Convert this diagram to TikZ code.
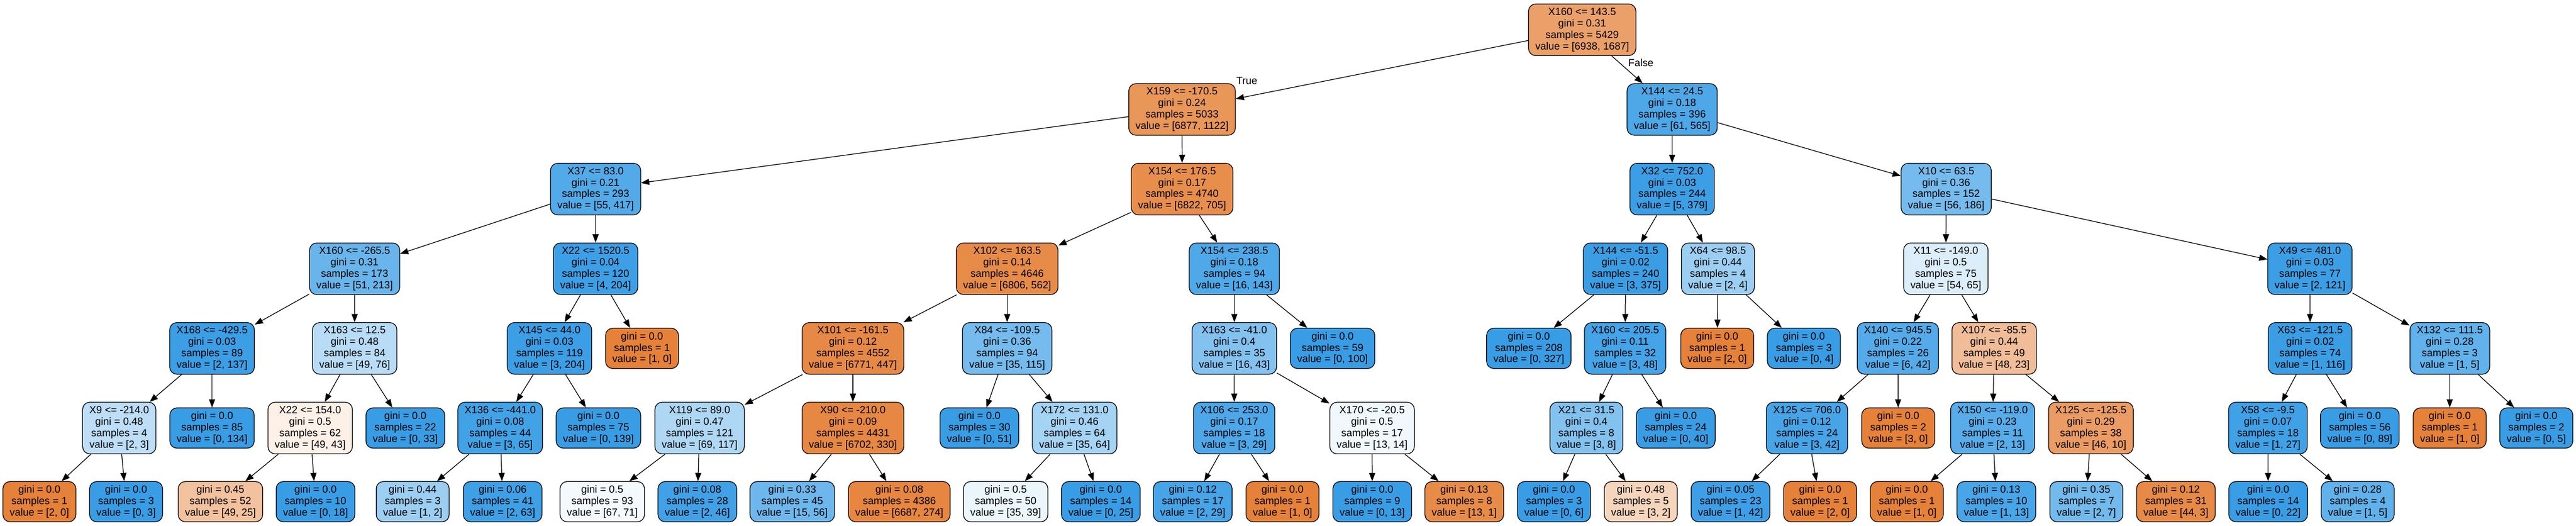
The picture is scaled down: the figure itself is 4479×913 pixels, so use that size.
\documentclass[tikz,border=0pt]{standalone}
\usepackage{fontspec}
\setmainfont{Liberation Sans}
\usetikzlibrary{arrows.meta}
\definecolor{cA}{RGB}{229,129,57}
\definecolor{cB}{RGB}{57,157,229}
\tikzset{
  nv/.code 2 args={%
    \pgfmathsetmacro\dtAlpha{(max(#1,#2)-min(#1,#2))/max(#1,#2)*100}%
    \ifnum#1<#2\relax\def\dtCol{cB}\else\def\dtCol{cA}\fi
    \edef\dtTmp{\noexpand\pgfkeysalso{fill=\dtCol!\dtAlpha!white}}\dtTmp},
  dtbox/.style={draw=black, line width=1pt, rounded corners=10pt, align=center,
    font=\fontsize{14.4}{16}\selectfont, inner xsep=9.5pt, inner ysep=0pt},
  dtint/.style={dtbox, minimum height=72pt},
  dtleaf/.style={dtbox, minimum height=56.2pt},
  dtedge/.style={draw=black, line width=1pt, -{Triangle[length=11.5pt,width=8.5pt]}},
  dtlab/.style={font=\fontsize{14.4}{16}\selectfont, inner sep=0pt}
}
\newcommand\dtInner[8]{\node[dtint, nv={#7}{#8}] (#1) at ({#2},{ifthenelse(#3<6,51.76+138.4*#3,871.7)}) {#4\\gini = #5\\samples = #6\\value = [#7, #8]};}
\newcommand\dtLeaf[7]{\node[dtleaf, nv={#6}{#7}] (#1) at ({#2},{ifthenelse(#3<6,51.76+138.4*#3,871.7)}) {gini = #4\\samples = #5\\value = [#6, #7]};}
\begin{document}
\begin{tikzpicture}[x=0.80289pt, y=-0.80289pt]
\fill[white] (0,0) rectangle (4479,913);
\useasboundingbox (0,0) rectangle (4479,913);
% rank 0-2
\dtInner{R}{2751}{0}{X160 <= 143.5}{0.31}{5429}{6938}{1687}
\dtInner{A}{2055.3}{1}{X159 <= -170.5}{0.24}{5033}{6877}{1122}
\dtInner{B}{2907.4}{1}{X144 <= 24.5}{0.18}{396}{61}{565}
\dtInner{Aa}{1035.6}{2}{X37 <= 83.0}{0.21}{293}{55}{417}
\dtInner{Ab}{2055.4}{2}{X154 <= 176.5}{0.17}{4740}{6822}{705}
\dtInner{Ba}{2907.4}{2}{X32 <= 752.0}{0.03}{244}{5}{379}
\dtInner{Bb}{3383.9}{2}{X10 <= 63.5}{0.36}{152}{56}{186}
% rank 3
\dtInner{Aaa}{616.6}{3}{X160 <= -265.5}{0.31}{173}{51}{213}
\dtInner{Aab}{1035.6}{3}{X22 <= 1520.5}{0.04}{120}{4}{204}
\dtInner{Aba}{1751.2}{3}{X102 <= 163.5}{0.14}{4646}{6806}{562}
\dtInner{Abb}{2146.2}{3}{X154 <= 238.5}{0.18}{94}{16}{143}
\dtInner{Baa}{2826.4}{3}{X144 <= -51.5}{0.02}{240}{3}{375}
\dtInner{Bab}{2987}{3}{X64 <= 98.5}{0.44}{4}{2}{4}
\dtInner{Bba}{3383.3}{3}{X11 <= -149.0}{0.5}{75}{54}{65}
\dtInner{Bbb}{4016.4}{3}{X49 <= 481.0}{0.03}{77}{2}{121}
% rank 4
\dtInner{Aaaa}{368.7}{4}{X168 <= -429.5}{0.03}{89}{2}{137}
\dtInner{Aaab}{616.7}{4}{X163 <= 12.5}{0.48}{84}{49}{76}
\dtInner{Aaba}{955.4}{4}{X145 <= 44.0}{0.03}{119}{3}{204}
\dtLeaf{Aabb}{1116.3}{4}{0.0}{1}{1}{0}
\dtInner{Abaa}{1483}{4}{X101 <= -161.5}{0.12}{4552}{6771}{447}
\dtInner{Abab}{1751.2}{4}{X84 <= -109.5}{0.36}{94}{35}{115}
\dtInner{Abba}{2146.2}{4}{X163 <= -41.0}{0.4}{35}{16}{43}
\dtLeaf{Abbb}{2316.9}{4}{0.0}{59}{0}{100}
\dtLeaf{Baaa}{2658.2}{4}{0.0}{208}{0}{327}
\dtInner{Baab}{2825.7}{4}{X160 <= 205.5}{0.11}{32}{3}{48}
\dtLeaf{Baba}{2985.8}{4}{0.0}{1}{2}{0}
\dtLeaf{Babb}{3136.5}{4}{0.0}{3}{0}{4}
\dtInner{Bbaa}{3299.9}{4}{X140 <= 945.5}{0.22}{26}{6}{42}
\dtInner{Bbab}{3467.3}{4}{X107 <= -85.5}{0.44}{49}{48}{23}
\dtInner{Bbba}{4016.7}{4}{X63 <= -121.5}{0.02}{74}{1}{116}
\dtInner{Bbbb}{4259.5}{4}{X132 <= 111.5}{0.28}{3}{1}{5}
% rank 5
\dtInner{Aaaaa}{207.3}{5}{X9 <= -214.0}{0.48}{4}{2}{3}
\dtLeaf{Aaaab}{368.7}{5}{0.0}{85}{0}{134}
\dtInner{Aaaba}{539.3}{5}{X22 <= 154.0}{0.5}{62}{49}{43}
\dtLeaf{Aaabb}{704.7}{5}{0.0}{22}{0}{33}
\dtInner{Aabaa}{869.7}{5}{X136 <= -441.0}{0.08}{44}{3}{65}
\dtLeaf{Aabab}{1040.5}{5}{0.0}{75}{0}{139}
\dtInner{Abaaa}{1216.5}{5}{X119 <= 89.0}{0.47}{121}{69}{117}
\dtInner{Abaab}{1483}{5}{X90 <= -210.0}{0.09}{4431}{6702}{330}
\dtLeaf{Ababa}{1702.9}{5}{0.0}{30}{0}{51}
\dtInner{Ababb}{1868.5}{5}{X172 <= 131.0}{0.46}{64}{35}{64}
\dtInner{Abbaa}{2145.9}{5}{X106 <= 253.0}{0.17}{18}{3}{29}
\dtInner{Abbab}{2385.7}{5}{X170 <= -20.5}{0.5}{17}{13}{14}
\dtInner{Baaba}{2758.3}{5}{X21 <= 31.5}{0.4}{8}{3}{8}
\dtLeaf{Baabb}{2913.7}{5}{0.0}{24}{0}{40}
\dtInner{Bbaaa}{3141.9}{5}{X125 <= 706.0}{0.12}{24}{3}{42}
\dtLeaf{Bbaab}{3300.5}{5}{0.0}{2}{3}{0}
\dtInner{Bbaba}{3464.6}{5}{X150 <= -119.0}{0.23}{11}{2}{13}
\dtInner{Bbabb}{3635.5}{5}{X125 <= -125.5}{0.29}{38}{46}{10}
\dtInner{Bbbaa}{3943.3}{5}{X58 <= -9.5}{0.07}{18}{1}{27}
\dtLeaf{Bbbab}{4103.1}{5}{0.0}{56}{0}{89}
\dtLeaf{Bbbba}{4259.4}{5}{0.0}{1}{1}{0}
\dtLeaf{Bbbbb}{4410}{5}{0.0}{2}{0}{5}
% rank 6
\dtLeaf{L1}{68.5}{6}{0.0}{1}{2}{0}
\dtLeaf{L2}{219.2}{6}{0.0}{3}{0}{3}
\dtLeaf{L3}{383.3}{6}{0.45}{52}{49}{25}
\dtLeaf{L4}{548.6}{6}{0.0}{10}{0}{18}
\dtLeaf{L5}{717.6}{6}{0.44}{3}{1}{2}
\dtLeaf{L6}{874.0}{6}{0.06}{41}{2}{63}
\dtLeaf{L7}{1047.2}{6}{0.5}{93}{67}{71}
\dtLeaf{L8}{1212.5}{6}{0.08}{28}{2}{46}
\dtLeaf{L9}{1377.5}{6}{0.33}{45}{15}{56}
\dtLeaf{L10}{1563.7}{6}{0.08}{4386}{6687}{274}
\dtLeaf{L11}{1748.6}{6}{0.5}{50}{35}{39}
\dtLeaf{L12}{1914.1}{6}{0.0}{14}{0}{25}
\dtLeaf{L13}{2073.9}{6}{0.12}{17}{2}{29}
\dtLeaf{L14}{2229.9}{6}{0.0}{1}{1}{0}
\dtLeaf{L15}{2386}{6}{0.0}{9}{0}{13}
\dtLeaf{L16}{2546}{6}{0.13}{8}{13}{1}
\dtLeaf{L17}{2702}{6}{0.0}{3}{0}{6}
\dtLeaf{L18}{2852.9}{6}{0.48}{5}{3}{2}
\dtLeaf{L19}{3008.9}{6}{0.05}{23}{1}{42}
\dtLeaf{L20}{3164.7}{6}{0.0}{1}{2}{0}
\dtLeaf{L21}{3315.5}{6}{0.0}{1}{1}{0}
\dtLeaf{L22}{3471.2}{6}{0.13}{10}{1}{13}
\dtLeaf{L23}{3627.6}{6}{0.35}{7}{2}{7}
\dtLeaf{L24}{3783.3}{6}{0.12}{31}{44}{3}
\dtLeaf{L25}{3943.7}{6}{0.0}{14}{0}{22}
\dtLeaf{L26}{4099.5}{6}{0.28}{4}{1}{5}
% edge labels
\node[dtlab] (tl) at (2168,140.5) {True};
\node[dtlab] (fl) at (2853,109.4) {False};
% edges
\foreach \p/\c in {R/A, R/B, A/Aa, A/Ab, B/Ba, B/Bb,
  Aa/Aaa, Aa/Aab, Ab/Aba, Ab/Abb, Ba/Baa, Ba/Bab, Bb/Bba, Bb/Bbb,
  Aaa/Aaaa, Aaa/Aaab, Aab/Aaba, Aab/Aabb, Aba/Abaa, Aba/Abab, Abb/Abba, Abb/Abbb,
  Baa/Baaa, Baa/Baab, Bab/Baba, Bab/Babb, Bba/Bbaa, Bba/Bbab, Bbb/Bbba, Bbb/Bbbb,
  Aaaa/Aaaaa, Aaaa/Aaaab, Aaab/Aaaba, Aaab/Aaabb, Aaba/Aabaa, Aaba/Aabab,
  Abaa/Abaaa, Abaa/Abaab, Abab/Ababa, Abab/Ababb, Abba/Abbaa, Abba/Abbab,
  Baab/Baaba, Baab/Baabb, Bbaa/Bbaaa, Bbaa/Bbaab, Bbab/Bbaba, Bbab/Bbabb,
  Bbba/Bbbaa, Bbba/Bbbab, Bbbb/Bbbba, Bbbb/Bbbbb,
  Aaaaa/L1, Aaaaa/L2, Aaaba/L3, Aaaba/L4, Aabaa/L5, Aabaa/L6,
  Abaaa/L7, Abaaa/L8, Abaab/L9, Abaab/L10, Ababb/L11, Ababb/L12,
  Abbaa/L13, Abbaa/L14, Abbab/L15, Abbab/L16, Baaba/L17, Baaba/L18,
  Bbaaa/L19, Bbaaa/L20, Bbaba/L21, Bbaba/L22, Bbabb/L23, Bbabb/L24,
  Bbbaa/L25, Bbbaa/L26}
  \draw[dtedge] (\p) -- (\c);
\end{tikzpicture}
\end{document}
